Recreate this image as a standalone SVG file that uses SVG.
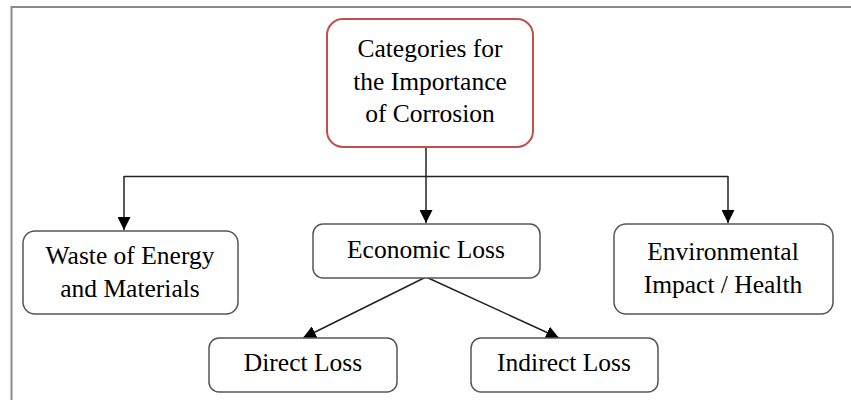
<svg xmlns="http://www.w3.org/2000/svg" width="851" height="400" viewBox="0 0 851 400">
<style>
.box{fill:#fff;stroke:#555;stroke-width:1.5}
.root{fill:#fff;stroke:#c0504d;stroke-width:2}
text{font-family:"Liberation Serif","Times New Roman",serif;font-size:25.5px;fill:#000;text-anchor:middle}
.conn{fill:none;stroke:#222;stroke-width:1.5}
</style>
<defs>
<marker id="arrL" viewBox="0 0 10 10" refX="10" refY="5" markerWidth="13" markerHeight="13" markerUnits="userSpaceOnUse" orient="auto">
<path d="M0,0 L10,5 L0,10 Z" fill="#000"/>
</marker>
</defs>
<rect x="11.5" y="7" width="900" height="500" fill="#fff" stroke="#8a8a8a" stroke-width="2"/>
<g id="connectors">
<path class="conn" d="M426,147 V223" marker-end="url(#arrL)"/>
<path class="conn" d="M124,176.5 H728"/>
<path class="conn" d="M124,176 V230" marker-end="url(#arrL)"/>
<path class="conn" d="M728,176 V223" marker-end="url(#arrL)"/>
<path class="conn" d="M426,277 L303,338" marker-end="url(#arrL)"/>
<path class="conn" d="M426,277 L559,338" marker-end="url(#arrL)"/>
</g>
<g id="root">
<rect class="root" x="327" y="19" width="206" height="128" rx="16"/>
<text x="430" y="57">Categories for</text>
<text x="430" y="90">the Importance</text>
<text x="430" y="122">of Corrosion</text>
</g>
<g id="waste">
<rect class="box" x="23" y="231" width="215" height="83" rx="12"/>
<text x="130" y="264">Waste of Energy</text>
<text x="130" y="297">and Materials</text>
</g>
<g id="economic">
<rect class="box" x="313" y="224" width="227" height="54" rx="10"/>
<text x="426" y="258">Economic Loss</text>
</g>
<g id="environment">
<rect class="box" x="614" y="224" width="219" height="90" rx="12"/>
<text x="723" y="260">Environmental</text>
<text x="723" y="293">Impact / Health</text>
</g>
<g id="direct">
<rect class="box" x="209" y="338" width="188" height="54" rx="10"/>
<text x="303" y="371">Direct Loss</text>
</g>
<g id="indirect">
<rect class="box" x="471" y="338" width="187" height="54" rx="10"/>
<text x="564" y="371">Indirect Loss</text>
</g>
</svg>
